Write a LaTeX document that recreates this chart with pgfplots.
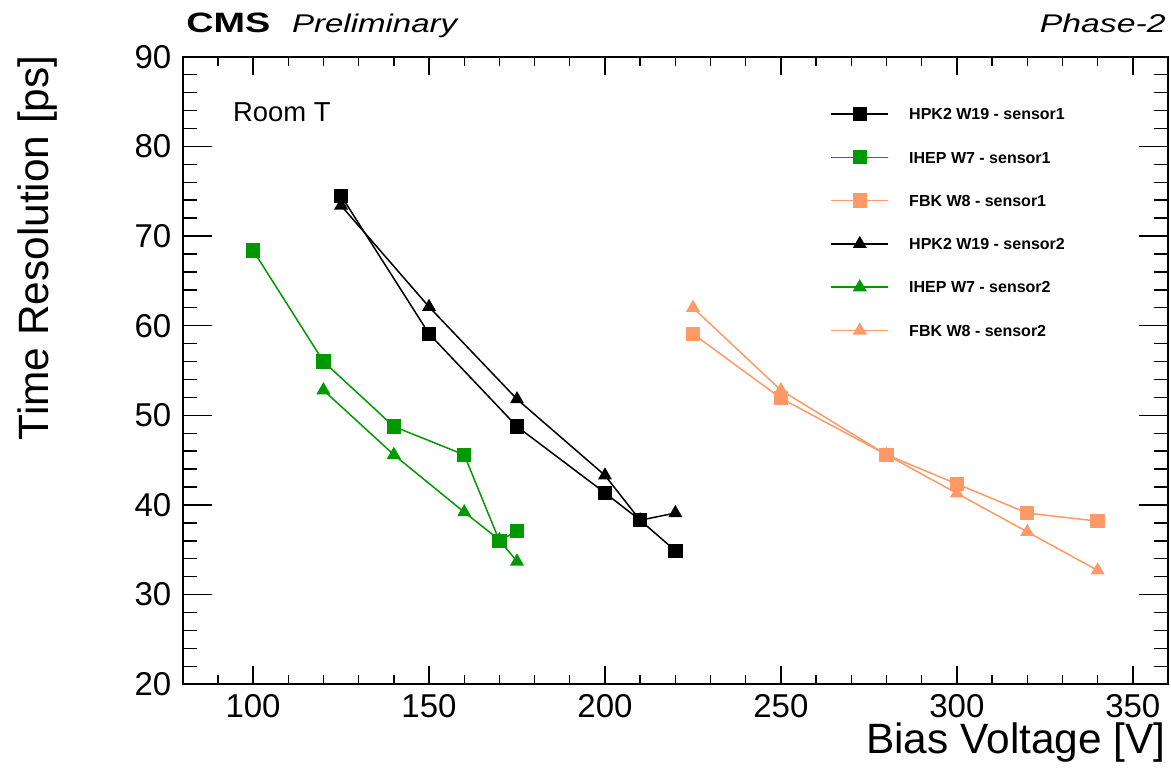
\documentclass[border=0pt]{standalone}
\usepackage{fontspec}
\setmainfont{Liberation Sans}
\usepackage{graphicx}
\usepackage{pgfplots}
\pgfplotsset{compat=1.18}
\definecolor{cmsgreen}{RGB}{0,153,0}
\definecolor{fbkorange}{RGB}{255,153,102}
\begin{document}
\begin{tikzpicture}
\useasboundingbox (-91.35pt,-42.35pt) rectangle (494.15pt,342.15pt);
\begin{axis}[
  at={(0pt,0pt)}, anchor=south west,
  scale only axis, width=492.65pt, height=313.8pt,
  xmin=80, xmax=360, ymin=20, ymax=90,
  xtick={100,150,...,350}, ytick={20,30,...,90},
  minor xtick={90,100,...,360}, minor ytick={20,22,...,90},
  tick align=inside,
  xtick pos=both, ytick pos=both,
  axis line style={line width=1pt},
  every tick/.style={black, line width=0.7pt},
  xtick style={/pgfplots/major tick length=9pt, /pgfplots/minor tick length=4.5pt},
  ytick style={/pgfplots/major tick length=14.5pt, /pgfplots/minor tick length=7pt},
  /pgf/number format/assume math mode=true,
  ticklabel style={font=\fontsize{16.5}{19}\selectfont},
  xticklabel style={anchor=base, inner sep=0pt, yshift=-16.6pt},
  yticklabel style={anchor=east, inner sep=0pt, xshift=-5.5pt},
  xlabel={Bias Voltage [V]},
  ylabel={Time Resolution [ps]},
  label style={font=\fontsize{21.2}{24}\selectfont, inner sep=0pt},
  xlabel style={at={(axis description cs:0.998,-0.1105)}, anchor=base east},
  ylabel style={at={(axis description cs:-0.1357,1.0027)}, anchor=base east},
  legend style={at={(rel axis cs:0.6577,0.9432)}, anchor=north west, draw=none, fill=none,
    inner sep=0pt, outer sep=0pt, column sep=10.2pt, row sep=0pt,
    font=\bfseries\fontsize{8}{9.6}\selectfont,
    nodes={inner sep=0pt, text height=13.7pt, text depth=7.95pt}},
  legend cell align=left,
  legend image code/.code={\draw[mark repeat=2,mark phase=2] plot coordinates {(0pt,0pt)(14.15pt,0pt)(28.3pt,0pt)};},
]
% sensor2 (drawn underneath)
\addplot[black, line width=0.75pt, mark=triangle*, mark size=3.3pt, forget plot] coordinates {
 (125,73.4) (150,62.1) (175,51.8) (200,43.3) (210,38.3) (220,39.1)};
\addplot[cmsgreen, line width=0.75pt, mark=triangle*, mark size=3.3pt, forget plot] coordinates {
 (120,52.8) (140,45.6) (160,39.2) (170,36.1) (175,33.7)};
\addplot[fbkorange, line width=0.75pt, mark=triangle*, mark size=3.3pt, forget plot] coordinates {
 (225,62.0) (250,52.8) (280,45.6) (300,41.3) (320,37.0) (340,32.7)};
% sensor1
\addplot[black, line width=0.75pt, mark=square*, mark size=3.2pt] coordinates {
 (125,74.5) (150,59.1) (175,48.75) (200,41.35) (210,38.3) (220,34.9)};
\addlegendentry{HPK2 W19 - sensor1}
\addplot[cmsgreen, line width=0.75pt, mark=square*, mark size=3.2pt] coordinates {
 (100,68.4) (120,56.0) (140,48.75) (160,45.6) (170,36.0) (175,37.1)};
\addlegendentry{IHEP W7 - sensor1}
\addplot[fbkorange, line width=0.75pt, mark=square*, mark size=3.2pt] coordinates {
 (225,59.1) (250,51.9) (280,45.6) (300,42.35) (320,39.1) (340,38.2)};
\addlegendentry{FBK W8 - sensor1}
\addlegendimage{black, line width=0.75pt, mark=triangle*, mark size=3.3pt}
\addlegendentry{HPK2 W19 - sensor2}
\addlegendimage{cmsgreen, line width=0.75pt, mark=triangle*, mark size=3.3pt}
\addlegendentry{IHEP W7 - sensor2}
\addlegendimage{fbkorange, line width=0.75pt, mark=triangle*, mark size=3.3pt}
\addlegendentry{FBK W8 - sensor2}
\end{axis}
\node[anchor=base west, inner sep=0pt, font=\bfseries\fontsize{14}{16}\selectfont] at (1.65pt,325.9pt) {\scalebox{1.35}[1]{CMS}};
\node[anchor=base west, inner sep=0pt, font=\itshape\fontsize{12.8}{15}\selectfont] at (54.5pt,325.9pt) {\scalebox{1.29}[1]{Preliminary}};
\node[anchor=base east, inner sep=0pt, font=\itshape\fontsize{12.8}{15}\selectfont] at (491.65pt,325.8pt) {\scalebox{1.32}[1]{Phase-2}};
\node[anchor=base west, inner sep=0pt, font=\fontsize{13.7}{16}\selectfont] at (25pt,281.3pt) {Room T};
\end{tikzpicture}
\end{document}
